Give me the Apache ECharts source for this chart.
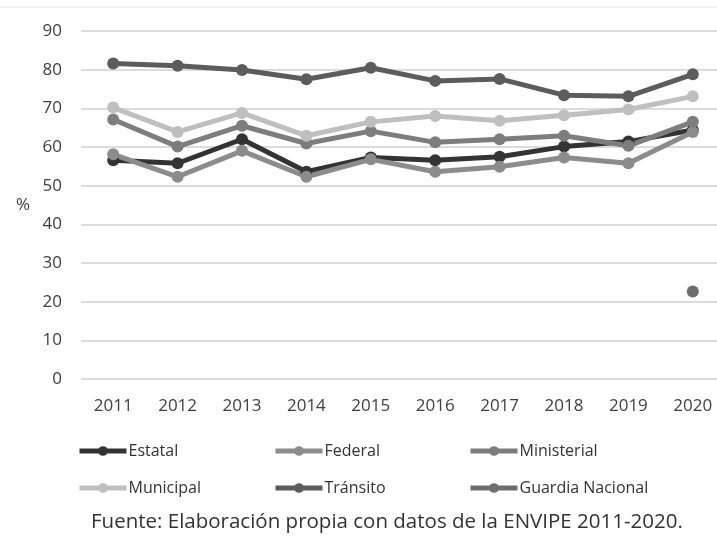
<!DOCTYPE html>
<html>
<head>
<meta charset="utf-8">
<script src="https://cdn.jsdelivr.net/npm/echarts@6/dist/echarts.min.js"></script>
<style>
  html, body { margin: 0; padding: 0; background: #fff; }
  #chart { width: 717px; height: 542px; }
</style>
</head>
<body>
<div id="chart"></div>
<script>
// años de la ENVIPE
const years = ['2011', '2012', '2013', '2014', '2015', '2016', '2017', '2018', '2019', '2020']

// % por corporación
const estatal = [56.6, 55.8, 62.0, 53.6, 57.3, 56.6, 57.5, 60.1, 61.4, 64.4]
const federal = [58.1, 52.3, 59.0, 52.3, 56.8, 53.6, 54.9, 57.3, 55.8, 63.9]
const ministerial = [67.1, 60.1, 65.5, 60.9, 64.1, 61.2, 62.0, 62.9, 60.3, 66.5]
const municipal = [70.2, 63.9, 68.8, 62.9, 66.5, 68.0, 66.8, 68.2, 69.7, 73.1]
const transito = [81.6, 81.0, 79.9, 77.5, 80.5, 77.1, 77.6, 73.4, 73.1, 78.8]
const guardia = [null, null, null, null, null, null, null, null, null, 22.6]

const yTicks = [0, 10, 20, 30, 40, 50, 60, 70, 80, 90]

const font = '"Open Sans", "DejaVu Sans", sans-serif'

function line(name, data, color) {
  return {
    name: name,
    type: 'line',
    data: data,
    color: color,
    symbol: 'circle',
    symbolSize: 12,
    lineStyle: { width: 5, color: color },
    itemStyle: { color: color },
    connectNulls: false,
    animation: false
  }
}

function legendAt(name, left, top) {
  return {
    data: [name],
    left: left,
    top: top,
    padding: 0,
    itemWidth: 47,
    itemHeight: 12,
    lineStyle: { width: 5 },
    textStyle: { fontFamily: font, fontSize: 16, color: '#333', padding: [0, 0, 0, -3] }
  }
}

const chart = echarts.init(document.getElementById('chart'))
chart.setOption({
  backgroundColor: '#fff',
  textStyle: { fontFamily: font },
  grid: { left: 81, top: 31, width: 644, height: 348, outerBoundsMode: 'none' },
  legend: [
    legendAt('Estatal', 77, 443),
    legendAt('Federal', 273, 443),
    legendAt('Ministerial', 468, 443),
    legendAt('Municipal', 77, 480),
    legendAt('Tránsito', 273, 480),
    legendAt('Guardia Nacional', 468, 480)
  ],
  graphic: [
    {
      type: 'line',
      shape: { x1: 0, y1: 7, x2: 717, y2: 7 },
      style: { stroke: '#e6e6e6', lineWidth: 1 }
    },
    {
      type: 'text',
      left: 91,
      top: 512,
      style: {
        text: 'Fuente: Elaboración propia con datos de la ENVIPE 2011-2020.',
        font: '20.5px ' + font,
        fill: '#333'
      }
    }
  ],
  xAxis: {
    type: 'category',
    data: years,
    boundaryGap: true,
    axisLine: { show: false },
    axisTick: { show: false },
    axisLabel: { color: '#404040', fontSize: 17, margin: 19, fontFamily: font }
  },
  yAxis: {
    type: 'value',
    min: yTicks[0],
    max: yTicks[yTicks.length - 1],
    interval: 10,
    name: '%',
    nameLocation: 'middle',
    nameRotate: 0,
    nameGap: 51,
    nameTextStyle: { color: '#404040', fontSize: 17, fontFamily: font },
    axisLine: { show: false },
    axisTick: { show: false },
    axisLabel: { color: '#404040', fontSize: 17, margin: 19, fontFamily: font },
    splitLine: { lineStyle: { color: '#d0d0d0', width: 1.5 } }
  },
  series: [
    line('Estatal', estatal, '#333333'),
    line('Federal', federal, '#8c8c8c'),
    line('Ministerial', ministerial, '#7d7d7d'),
    line('Municipal', municipal, '#bfbfbf'),
    line('Tránsito', transito, '#5c5c5c'),
    line('Guardia Nacional', guardia, '#6d6d6d')
  ]
})
</script>
</body>
</html>
